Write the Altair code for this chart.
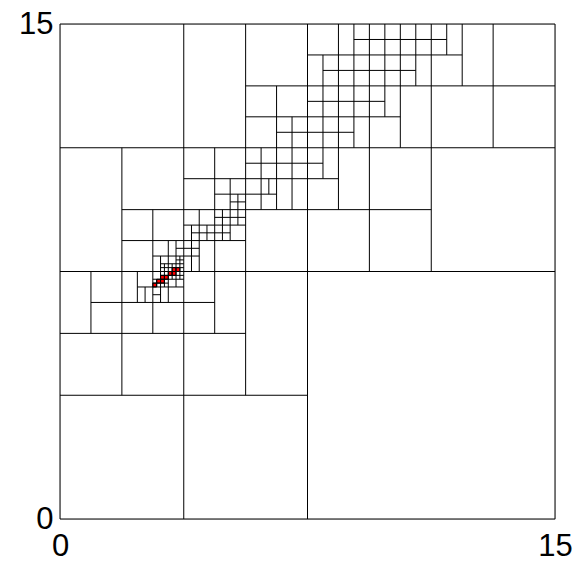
import altair as alt
import pandas as pd

UNIT = 15 / 32  # side of one level-5 cell in data units

# vertical cut lines of the kd-tree mesh: (x, y_from, y_to) in level-5 cell units
V_CUTS = [
    (0, 0, 32), (32, 0, 32),
    (16, 0, 32), (8, 0, 32), (24, 16, 32), (4, 8, 24), (12, 8, 32), (28, 24, 32),
    (20, 16, 32), (2, 12, 16), (6, 12, 20), (14, 20, 28), (15, 20, 26), (13, 20, 24),
    (17, 22, 30), (18, 20, 32), (19, 24, 32), (22, 24, 32), (21, 26, 32), (23, 28, 32),
    (26, 28, 32), (25, 30, 32), (10, 12, 24), (11, 18, 22), (11.5, 19, 21), (13.5, 21, 22),
    (5, 14, 16), (5.5, 14, 15), (7, 14, 18), (6.5, 14, 17), (6.25, 15, 15.5),
    (6.75, 15, 16), (6.75, 16, 16.5), (7.5, 15, 18), (7.25, 15.5, 16.5), (7.75, 15.5, 17),
    (9, 16, 20), (8.5, 16, 19), (9.5, 18, 19), (10.5, 18, 20),
]
# horizontal cut lines: (y, x_from, x_to)
H_CUTS = [
    (0, 0, 32), (32, 0, 32),
    (16, 0, 32), (8, 0, 16), (24, 0, 32), (12, 0, 12), (14, 2, 10), (20, 4, 24), (18, 4, 12),
    (28, 12, 32), (26, 12, 22), (25, 14, 19), (27, 16, 21), (29, 17, 23), (30, 16, 26),
    (31, 19, 25), (22, 8, 18), (23, 12, 17), (21, 10, 14), (20.5, 11, 12),
    (15, 5, 8), (15.5, 6, 8), (15.25, 6, 7), (15.75, 6.5, 8), (14.5, 6, 6.5),
    (17, 6, 9), (16.5, 6.5, 8), (16.25, 6.5, 8), (16.75, 7.5, 8), (17.5, 7.5, 9),
    (19, 8, 12), (18.5, 8.5, 11), (19.5, 10, 12),
]
# marked (red) finest cells: lower-left corner (x, y), side 0.25
RED_CELLS = [
    (6.0, 15.0), (6.25, 15.25), (6.5, 15.25), (6.5, 15.5), (6.75, 15.5),
    (7.0, 15.75), (7.25, 15.75), (7.25, 16.0), (7.5, 16.0),
]
RED_SIZE = 0.25

segs = []
for x, a, b in V_CUTS:
    segs.append({"x": x * UNIT, "x2": x * UNIT, "y": a * UNIT, "y2": b * UNIT})
for y, a, b in H_CUTS:
    segs.append({"x": a * UNIT, "x2": b * UNIT, "y": y * UNIT, "y2": y * UNIT})
seg_df = pd.DataFrame(segs)

red_df = pd.DataFrame([
    {"x": x * UNIT, "x2": (x + RED_SIZE) * UNIT, "y": y * UNIT, "y2": (y + RED_SIZE) * UNIT}
    for x, y in RED_CELLS
])

xs = alt.Scale(domain=[0, 15], nice=False, zero=False)
ys = alt.Scale(domain=[0, 15], nice=False, zero=False)
xaxis = alt.Axis(values=[0, 15], ticks=False, domain=False, grid=False, title=None,
                 labelFontSize=31, labelFont="Liberation Sans", labelColor="black",
                 labelPadding=12, labelFlush=False)
yaxis = alt.Axis(values=[0, 15], ticks=False, domain=False, grid=False, title=None,
                 labelFontSize=31, labelFont="Liberation Sans", labelColor="black",
                 labelPadding=7, labelFlush=False)

red = alt.Chart(red_df).mark_rect(color="#ff0000", stroke="black", strokeWidth=1).encode(
    x=alt.X("x:Q", scale=xs, axis=xaxis), x2="x2", y=alt.Y("y:Q", scale=ys, axis=yaxis), y2="y2"
)
lines = alt.Chart(seg_df).mark_rule(color="black", strokeWidth=1).encode(
    x=alt.X("x:Q", scale=xs, axis=xaxis), x2="x2", y=alt.Y("y:Q", scale=ys, axis=yaxis), y2="y2"
)

chart = alt.layer(red, lines).properties(
    width=495, height=495,
    autosize=alt.AutoSizeParams(type="none"),
    padding={"left": 60, "top": 24, "right": 27, "bottom": 45},
).configure_view(stroke=None).configure(background="white")

chart.save("out.html", embed_options={"renderer": "svg", "actions": False})
